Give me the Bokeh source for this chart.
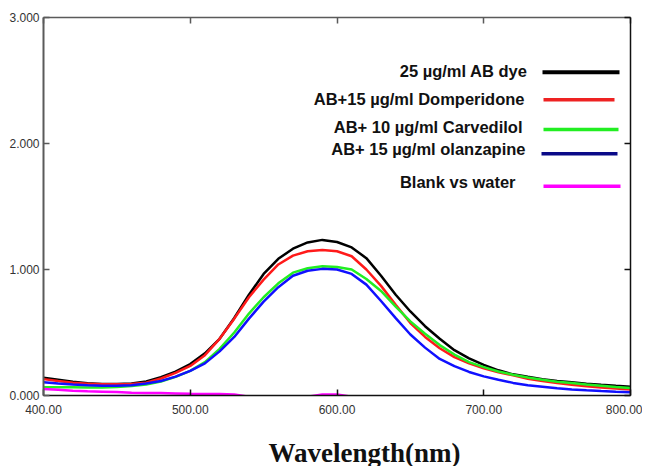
from bokeh.plotting import figure
from bokeh.layouts import column
from bokeh.models import Range1d, LinearAxis, FixedTicker, NumeralTickFormatter
from bokeh.core.properties import value
from bokeh.embed import file_html
from bokeh.resources import INLINE

# ---------------- data ----------------
wavelength = [400, 410, 420, 430, 440, 450, 460, 470, 480, 490, 500, 510, 520, 530, 540,
              550, 560, 570, 580, 590, 600, 610, 620, 630, 640, 650, 660, 670, 680, 690,
              700, 710, 720, 730, 740, 750, 760, 770, 780, 790, 800]

ab_dye = [0.140, 0.125, 0.110, 0.098, 0.092, 0.091, 0.095, 0.112, 0.145, 0.190, 0.250,
          0.335, 0.450, 0.615, 0.800, 0.965, 1.085, 1.165, 1.215, 1.235, 1.218, 1.175,
          1.090, 0.950, 0.800, 0.667, 0.550, 0.450, 0.360, 0.295, 0.243, 0.200, 0.168,
          0.148, 0.130, 0.116, 0.105, 0.094, 0.085, 0.077, 0.070]

domperidone = [0.130, 0.115, 0.102, 0.094, 0.090, 0.089, 0.092, 0.102, 0.135, 0.180, 0.235,
               0.320, 0.450, 0.610, 0.780, 0.920, 1.040, 1.110, 1.145, 1.155, 1.145, 1.105,
               1.000, 0.870, 0.720, 0.575, 0.465, 0.375, 0.305, 0.255, 0.215, 0.185, 0.160,
               0.133, 0.115, 0.100, 0.085, 0.073, 0.063, 0.055, 0.047]

carvedilol = [0.065, 0.066, 0.065, 0.064, 0.064, 0.068, 0.076, 0.088, 0.110, 0.148, 0.196,
              0.265, 0.370, 0.500, 0.650, 0.780, 0.890, 0.975, 1.010, 1.025, 1.020, 1.000,
              0.925, 0.830, 0.705, 0.588, 0.490, 0.400, 0.325, 0.265, 0.225, 0.190, 0.165,
              0.143, 0.125, 0.110, 0.100, 0.088, 0.078, 0.068, 0.060]

olanzapine = [0.105, 0.095, 0.088, 0.082, 0.078, 0.078, 0.082, 0.095, 0.115, 0.150, 0.196,
              0.255, 0.350, 0.465, 0.610, 0.745, 0.860, 0.950, 0.990, 1.005, 1.000, 0.965,
              0.880, 0.750, 0.614, 0.484, 0.380, 0.290, 0.233, 0.187, 0.152, 0.125, 0.100,
              0.082, 0.070, 0.058, 0.048, 0.041, 0.035, 0.030, 0.026]

blank = [0.052, 0.045, 0.038, 0.033, 0.030, 0.027, 0.022, 0.020, 0.019, 0.016, 0.013,
         0.012, 0.011, 0.008, -0.010, -0.010, -0.010, -0.010, -0.010, 0.008, 0.008, -0.010,
         -0.010, -0.010, -0.010, -0.010, -0.010, -0.010, -0.010, -0.010, -0.010, -0.010, -0.010,
         -0.010, -0.010, -0.010, -0.010, -0.010, -0.010, -0.010, -0.010]

series_names = ["25 \u00b5g/ml AB dye", "AB+15 \u00b5g/ml Domperidone",
                "AB+ 10 \u00b5g/ml Carvedilol", "AB+ 15 \u00b5g/ml olanzapine",
                "Blank vs water"]
series_values = [ab_dye, domperidone, carvedilol, olanzapine, blank]
curve_colors = ["#000000", "#ff1a1a", "#22ee22", "#1010ff", "#ff00ff"]
key_colors = ["#000000", "#ee2222", "#22ee22", "#0a0a88", "#ff00ff"]

x_ticks = [400, 500, 600, 700, 800]
y_ticks = [0, 1, 2, 3]
x_title = "Wavelength(nm)"

# ---------------- layout helpers (page pixels) ----------------
X0, X1 = 400, 800
Y0, Y1 = 0, 3
FL, FR, FT, FB = 43, 630, 17, 395   # frame edges in page pixels


def px_x(px):
    return X0 + (px - FL) / (FR - FL) * (X1 - X0)


def px_y(py):
    return Y0 + (FB - py) / (FB - FT) * (Y1 - Y0)


W, H = 642, 430        # main chart
H2 = 36                # strip below, holding the axis title

p = figure(width=W, height=H, output_backend="svg", toolbar_location=None,
           x_range=Range1d(X0, X1), y_range=Range1d(Y0, Y1),
           x_axis_location=None, y_axis_location=None,
           min_border_left=FL, min_border_right=W - FR,
           min_border_top=FT, min_border_bottom=H - FB)
p.outline_line_color = None
p.grid.visible = False
p.background_fill_color = "white"
p.border_fill_color = "white"

TICK_FONT = "Liberation Sans"


def style_axis(ax, color, width, show_labels):
    ax.axis_line_color = color
    ax.axis_line_width = width
    ax.major_tick_in = 6
    ax.major_tick_out = 0
    ax.major_tick_line_color = color
    ax.major_tick_line_width = 1.5
    ax.minor_tick_line_color = None
    ax.major_label_text_font = TICK_FONT
    ax.major_label_text_font_size = "12px"
    ax.major_label_text_color = "#333333"
    if not show_labels:
        ax.major_label_standoff = 0


left = LinearAxis(ticker=FixedTicker(ticks=y_ticks), formatter=NumeralTickFormatter(format="0.000"))
style_axis(left, "#5a5a5a", 2, True)
left.major_label_standoff = 4
p.add_layout(left, "left")

right = LinearAxis(ticker=FixedTicker(ticks=y_ticks),
                   major_label_overrides={t: "" for t in y_ticks})
style_axis(right, "#111111", 1.5, False)
p.add_layout(right, "right")

bottom = LinearAxis(ticker=FixedTicker(ticks=x_ticks), formatter=NumeralTickFormatter(format="0.00"))
style_axis(bottom, "#111111", 1.5, True)
bottom.major_label_standoff = 9
p.add_layout(bottom, "below")

top = LinearAxis(ticker=FixedTicker(ticks=x_ticks),
                 major_label_overrides={t: "" for t in x_ticks})
style_axis(top, "#5a5a5a", 1.5, False)
p.add_layout(top, "above")

# ---------------- curves ----------------
for vals, col in zip(series_values, curve_colors):
    p.line(wavelength, vals, line_color=col, line_width=2.5)

# ---------------- legend (text on the left, key line on the right) ----------------
legend_text_right = [527, 524, 522, 525, 515]
legend_text_y = [70, 98, 126.7, 148.3, 181]
legend_key_x = [(542, 619), (543, 614), (543, 618), (541, 617), (543, 620)]
legend_key_y = [71.7, 99.3, 129, 153.3, 185.7]
legend_key_w = [4, 3.5, 3.5, 3.5, 3.5]

for name, tr, ty, (kx0, kx1), ky, kw, kc in zip(series_names, legend_text_right, legend_text_y,
                                                legend_key_x, legend_key_y, legend_key_w, key_colors):
    p.text(x=[px_x(tr)], y=[px_y(ty)], text=[name], text_align="right", text_baseline="middle",
           text_font=value("Liberation Sans"), text_font_style="bold",
           text_font_size="16.5px", text_color="#111111")
    p.line([px_x(kx0), px_x(kx1)], [px_y(ky), px_y(ky)], line_color=kc, line_width=kw)

# ---------------- axis title strip ----------------
t = figure(width=W, height=H2, output_backend="svg", toolbar_location=None,
           x_range=Range1d(0, W), y_range=Range1d(H + H2, H),
           x_axis_location=None, y_axis_location=None,
           min_border_left=0, min_border_right=0, min_border_top=0, min_border_bottom=0)
t.outline_line_color = None
t.grid.visible = False
t.background_fill_color = "white"
t.border_fill_color = "white"
t.text(x=[246], y=[452], text=[x_title], text_align="left", text_baseline="middle",
       text_font=value("Liberation Serif"), text_font_style="bold",
       text_font_size="27px", text_color="#111111")

layout = column(p, t, spacing=0)
open("out.html", "w").write(file_html(layout, INLINE))
